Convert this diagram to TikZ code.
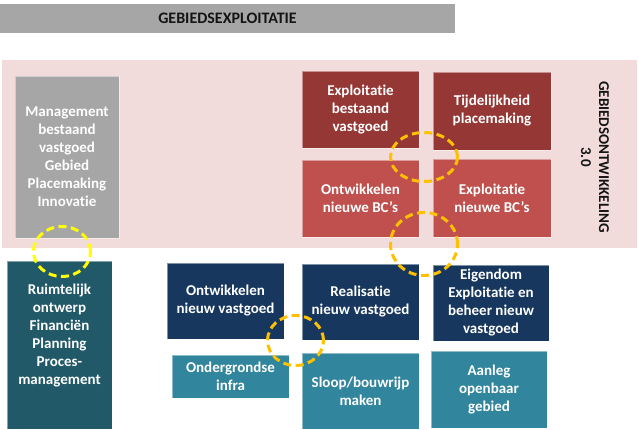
\documentclass[tikz,border=0pt]{standalone}
\usepackage{fontspec}
\setmainfont{Carlito}[Ligatures=NoCommon]
\usetikzlibrary{shapes.geometric}
\definecolor{bargray}{HTML}{A6A6A6}
\definecolor{pinkband}{HTML}{F2DCDB}
\definecolor{darkred}{HTML}{953735}
\definecolor{midred}{HTML}{C0504D}
\definecolor{navy}{HTML}{17375E}
\definecolor{tealdark}{HTML}{215968}
\definecolor{teallight}{HTML}{31859C}
\definecolor{ringyellow}{HTML}{FFFF00}
\definecolor{ringorange}{HTML}{FFC000}
\begin{document}
\begin{tikzpicture}[x=1pt,y=-1pt,
  box/.style={rectangle, inner sep=0pt, draw=white, draw opacity=0.45, line width=0.7pt,
    text=white, font=\fontsize{15}{18}\selectfont\bfseries, align=center},
  plain/.style={inner sep=0pt, text=white, font=\fontsize{15}{18}\selectfont\bfseries, align=center},
  ring/.style={ellipse, draw, line width=3pt, dash pattern=on 8pt off 4.5pt, inner sep=0pt}
]
\useasboundingbox (0,0) rectangle (639,430);
% background band
\node[fill=pinkband, inner sep=0pt, minimum width=635pt, minimum height=188pt] (band) at (319.5,154) {};
% title bar
\node[fill=bargray, inner sep=0pt, minimum width=455pt, minimum height=29pt,
  font=\fontsize{16}{19}\selectfont\bfseries, text=black!92] (title) at (227.5,18.5) {GEBIEDSEXPLOITATIE};
% rotated label
\node[rotate=-90, inner sep=0pt, align=center, text=black!92,
  font=\fontsize{15}{18}\selectfont\bfseries] (gebont) at (595,157) {GEBIEDSONTWIKKELING\\3.0};
% gray box
\node[box, fill=bargray, minimum width=104pt, minimum height=162pt] (mgmt) at (67,157)
  {Management\\bestaand\\vastgoed\\Gebied\\Placemaking\\Innovatie};
% red boxes
\node[box, fill=darkred, minimum width=117pt, minimum height=77pt] (expbest) at (360.5,109.5)
  {Exploitatie\\bestaand\\vastgoed};
\node[box, fill=darkred, minimum width=118pt, minimum height=78pt] (tijd) at (492,111)
  {Tijdelijkheid\\placemaking};
\node[box, fill=midred, minimum width=117pt, minimum height=77pt] (ontwbc) at (360.5,198.5)
  {Ontwikkelen\\nieuwe BC’s};
\node[box, fill=midred, minimum width=118pt, minimum height=78pt] (expbc) at (492,198)
  {Exploitatie\\nieuwe BC’s};
% teal/navy boxes
\node[box, fill=tealdark, minimum width=105pt, minimum height=168pt] (ruimte) at (59.5,345) {};
\node[plain] (ruimtetxt) at (59.5,336) {Ruimtelijk\\ontwerp\\Financiën\\Planning\\Proces-\\management};
\node[box, fill=navy, minimum width=117pt, minimum height=76pt] (ontwvg) at (225.5,301)
  {Ontwikkelen\\nieuw vastgoed};
\node[box, fill=teallight, minimum width=117pt, minimum height=43pt] (onder) at (230.5,376.5)
  {Ondergrondse\\infra};
\node[box, fill=navy, minimum width=117pt, minimum height=76pt] (real) at (360.5,302)
  {Realisatie\\nieuw vastgoed};
\node[box, fill=navy, minimum width=116pt, minimum height=76pt] (eigen) at (491,303)
  {Eigendom\\Exploitatie en\\beheer nieuw\\vastgoed};
\node[box, fill=teallight, minimum width=117pt, minimum height=76pt] (sloop) at (360.5,391)
  {Sloop/bouwrijp\\maken};
\node[box, fill=teallight, minimum width=116pt, minimum height=77pt] (aanleg) at (489,389.5)
  {Aanleg\\openbaar\\gebied};
% dashed rings
\node[ring, draw=ringyellow, minimum width=57pt, minimum height=50pt] (ring1) at (62,251.5) {};
\node[ring, draw=ringorange, minimum width=67pt, minimum height=49pt] (ring2) at (424,157) {};
\node[ring, draw=ringorange, minimum width=67pt, minimum height=63pt] (ring3) at (424,244) {};
\node[ring, draw=ringorange, minimum width=56pt, minimum height=50pt] (ring4) at (295.5,340.5) {};
\end{tikzpicture}
\end{document}
